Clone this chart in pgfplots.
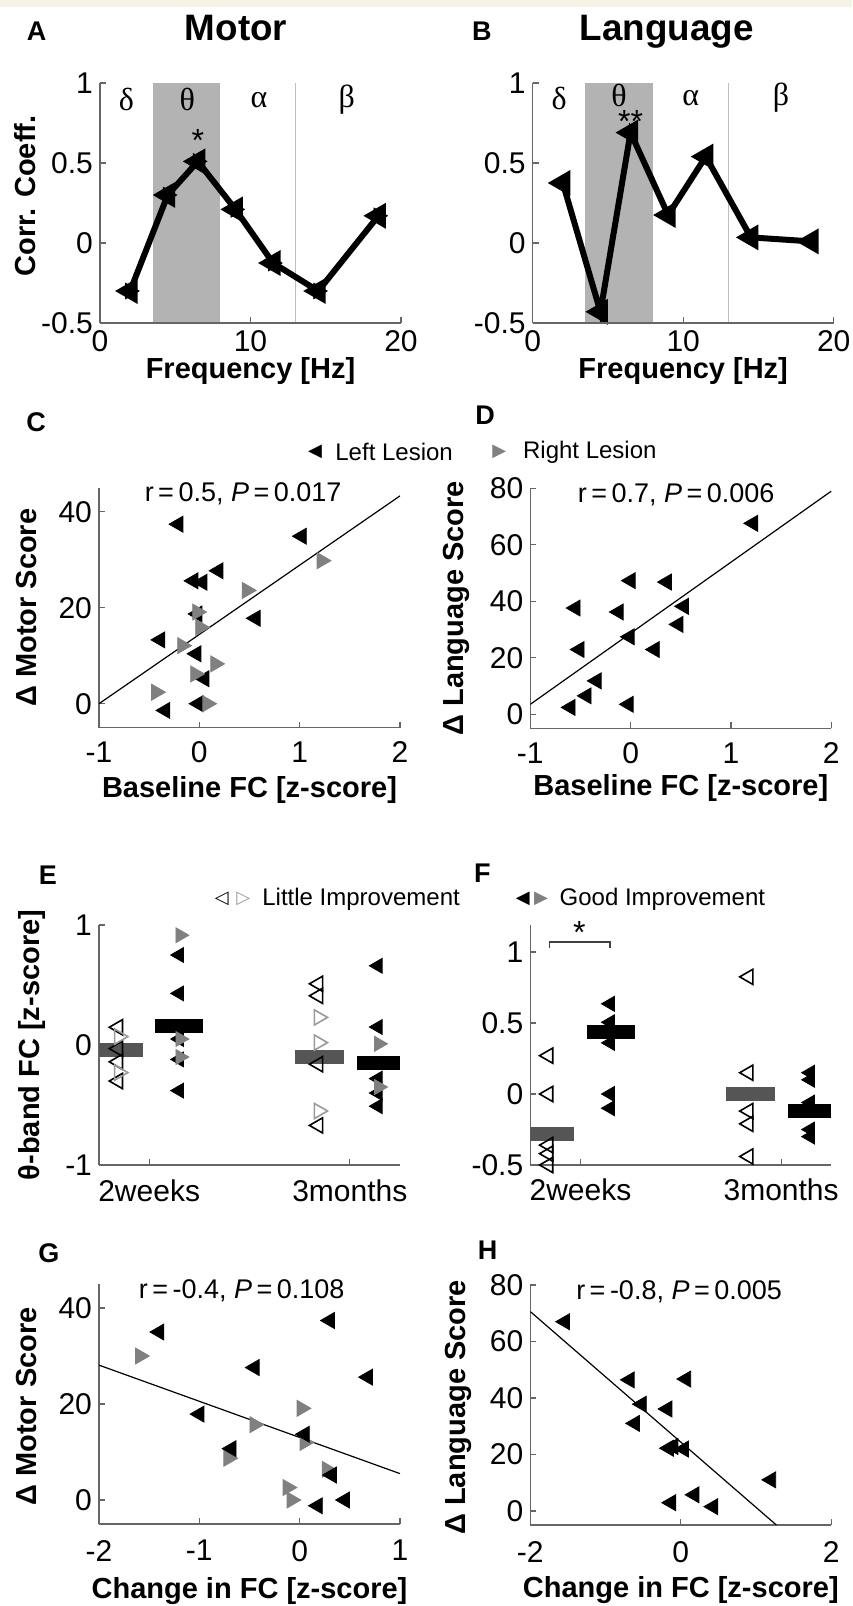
\documentclass[border=0pt]{standalone}
\usepackage{fontspec}
\setmainfont{Liberation Sans}
\newfontfamily\seriffont{Liberation Serif}
\newfontfamily\symfont{DejaVu Sans}
\usepackage{pgfplots}
\pgfplotsset{compat=1.18}

\definecolor{rgray}{HTML}{808080}
\definecolor{bargray}{HTML}{555555}
\definecolor{band}{HTML}{B3B3B3}
\definecolor{axgray}{HTML}{666666}
\definecolor{beige}{HTML}{F6F3E4}
\definecolor{ogray}{HTML}{9A9A9A}

\newcommand\tickfont{\fontsize{15}{17}\selectfont}
\newcommand\labfont{\bfseries\fontsize{14.5}{17}\selectfont}
\newcommand\statfont{\fontsize{13.5}{16}\selectfont}
\newcommand\legfont{\fontsize{12}{14}\selectfont}
\newcommand\letfont{\bfseries\fontsize{13.5}{15}\selectfont}
\newcommand\greek{\seriffont\fontsize{16}{18}\selectfont}

\pgfplotsset{
  panel/.style={
    scale only axis, width=150.5pt, height=120pt, anchor=south west,
    axis lines=left, axis line style={-, axgray, line width=0.7pt},
    tick style={axgray, line width=0.6pt}, tick align=inside,
    major tick length=3pt,
    ticklabel style={font=\tickfont},
    /pgf/number format/assume math mode=true,
    label style={font=\labfont},
    clip mode=individual,
  },
  lefttri/.style={only marks, mark=triangle*, mark size=4.6pt,
    mark options={rotate=90, fill=black, draw=black}},
  righttri/.style={only marks, mark=triangle*, mark size=4.6pt,
    mark options={rotate=-90, fill=rgray, draw=rgray}},
  leftopen/.style={only marks, mark=triangle, mark size=4.4pt,
    mark options={rotate=90, draw=black, line width=0.8pt}},
  rightopen/.style={only marks, mark=triangle, mark size=4.4pt,
    mark options={rotate=-90, draw=ogray, line width=0.8pt}},
  leftsm/.style={only marks, mark=triangle*, mark size=4.3pt,
    mark options={rotate=90, fill=black, draw=black}},
  rightsm/.style={only marks, mark=triangle*, mark size=4.3pt,
    mark options={rotate=-90, fill=rgray, draw=rgray}},
}

\begin{document}
\begin{tikzpicture}
\fill[white] (0pt,0pt) rectangle (426pt,-803pt);
\fill[beige] (0pt,0pt) rectangle (426pt,-3.5pt);
\useasboundingbox (0pt,0pt) rectangle (426pt,-803pt);

% titles and panel letters
\node[font=\bfseries\fontsize{18.4}{20}\selectfont, anchor=base] at (118pt,-20pt) {Motor};
\node[font=\bfseries\fontsize{18.4}{20}\selectfont, anchor=base] at (333.4pt,-20pt) {Language};
\node[font=\letfont] at (18.35pt,-15.85pt) {A};
\node[font=\letfont] at (240.9pt,-15.85pt) {B};
\node[font=\letfont] at (18pt,-210.85pt) {C};
\node[font=\letfont] at (242.5pt,-207.5pt) {D};
\node[font=\letfont] at (24pt,-437.5pt) {E};
\node[font=\letfont] at (241.15pt,-436.65pt) {F};
\node[font=\letfont] at (24.5pt,-626.5pt) {G};
\node[font=\letfont] at (243.85pt,-625pt) {H};

% legends
\node[font=\symfont\fontsize{9}{10}\selectfont] at (157.5pt,-226pt) {◀};
\node[font=\legfont, anchor=west, inner sep=0pt] at (167.5pt,-226pt) {Left Lesion};
\node[font=\symfont\fontsize{9}{10}\selectfont, text=rgray] at (249.65pt,-226pt) {▶};
\node[font=\legfont, anchor=west, inner sep=0pt] at (261.35pt,-226pt) {Right Lesion};
\node[font=\symfont\fontsize{9}{10}\selectfont] at (110.85pt,-449.5pt) {◁};
\node[font=\symfont\fontsize{9}{10}\selectfont, text=ogray] at (121.65pt,-449.5pt) {▷};
\node[font=\legfont, anchor=west, inner sep=0pt] at (131pt,-449.5pt) {Little Improvement};
\node[font=\symfont\fontsize{9}{10}\selectfont] at (261.35pt,-449.5pt) {◀};
\node[font=\symfont\fontsize{9}{10}\selectfont, text=rgray] at (270.5pt,-449.5pt) {▶};
\node[font=\legfont, anchor=west, inner sep=0pt] at (279.65pt,-449.5pt) {Good Improvement};

% ---------- A ----------
\begin{axis}[panel, at={(50pt,-161.5pt)}, axis on top,
  xmin=0, xmax=20, ymin=-0.5, ymax=1,
  xtick={0,10,20}, ytick={-0.5,0,0.5,1},
  xlabel={Frequency [Hz]}, ylabel={Corr. Coeff.},
  xlabel style={at={(axis description cs:0.5,-0.2)}, anchor=center},
  ylabel style={at={(axis description cs:-0.248,0.53)}, anchor=center}]
\addplot[fill=band, draw=none] coordinates {(3.5,-0.5) (8,-0.5) (8,1) (3.5,1)} --cycle;
\addplot[color=band!85, line width=0.6pt] coordinates {(13,-0.5) (13,1)};
\addplot[black, line width=3pt, mark=triangle*, mark size=4.5pt,
  mark options={rotate=90}] coordinates {
  (2,-0.3) (4.5,0.3) (6.5,0.51) (9,0.21) (11.5,-0.125) (14.5,-0.3) (18.5,0.17)};
\addplot[only marks, black, mark=triangle*, mark size=4.5pt,
  mark options={rotate=-90}] coordinates {
  (2,-0.3) (4.5,0.3) (6.5,0.51) (9,0.21) (11.5,-0.125) (14.5,-0.3) (18.5,0.17)};
\node[font=\greek] at (axis cs:1.76,0.894) {δ};
\node[font=\greek] at (axis cs:5.8,0.894) {θ};
\node[font=\greek] at (axis cs:10.56,0.894) {α};
\node[font=\greek] at (axis cs:16.39,0.894) {β};
\node[font=\fontsize{16}{18}\selectfont] at (axis cs:6.5,0.64) {*};
\end{axis}

% ---------- B ----------
\begin{axis}[panel, at={(266.35pt,-161.5pt)}, axis on top,
  xmin=0, xmax=20, ymin=-0.5, ymax=1,
  xtick={0,10,20}, ytick={-0.5,0,0.5,1},
  xlabel={Frequency [Hz]},
  xlabel style={at={(axis description cs:0.5,-0.2)}, anchor=center}]
\addplot[fill=band, draw=none] coordinates {(3.5,-0.5) (8,-0.5) (8,1) (3.5,1)} --cycle;
\addplot[color=band!85, line width=0.6pt] coordinates {(13,-0.5) (13,1)};
\addplot[black, line width=3pt, mark=triangle*, mark size=4.5pt,
  mark options={rotate=90}] coordinates {
  (2,0.375) (4.5,-0.43) (6.5,0.69) (9,0.175) (11.5,0.54) (14.5,0.035) (18.5,0.01)};
\node[font=\greek] at (axis cs:1.76,0.906) {δ};
\node[font=\greek] at (axis cs:5.74,0.925) {θ};
\node[font=\greek] at (axis cs:10.5,0.906) {α};
\node[font=\greek] at (axis cs:16.5,0.906) {β};
\node[font=\fontsize{16}{18}\selectfont] at (axis cs:6.5,0.76) {**};
\end{axis}

% ---------- C ----------
\begin{axis}[panel, at={(49.5pt,-363.85pt)},
  xmin=-1, xmax=2, ymin=-5, ymax=45,
  xtick={-1,0,1,2}, ytick={0,20,40},
  xticklabel style={yshift=-3.5pt},
  xlabel={Baseline FC [z-score]}, ylabel={Δ Motor Score},
  xlabel style={at={(axis description cs:0.5,-0.26)}, anchor=center},
  ylabel style={at={(axis description cs:-0.24,0.5)}, anchor=center}]
\addplot[black, line width=0.6pt] coordinates {(-1,0) (2,43.3)};
\addplot[lefttri] coordinates {
  (-0.21,37.4) (1.02,34.9) (-0.06,25.6) (0.03,25.3) (0.19,27.7) (0.56,17.8)
  (-0.02,18.7) (-0.39,13.3) (-0.03,10.4) (0.05,5.2) (-0.01,0) (-0.34,-1.4)};
\addplot[righttri] coordinates {
  (1.22,29.8) (0.475,23.6) (-0.02,19.1) (0.01,15.9) (-0.17,12.1) (0.16,8.3)
  (-0.04,6.2) (-0.43,2.4) (0.08,0)};
\node[font=\statfont] at (axis cs:0.436,43.7) {r\,=\,0.5, \textit{P}\,=\,0.017};
\end{axis}

% ---------- D ----------
\begin{axis}[panel, at={(265.15pt,-364.15pt)},
  xmin=-1, xmax=2, ymin=-5, ymax=80,
  xtick={-1,0,1,2}, ytick={0,20,40,60,80},
  xticklabel style={yshift=-3.5pt},
  xlabel={Baseline FC [z-score]}, ylabel={Δ Language Score},
  xlabel style={at={(axis description cs:0.5,-0.25)}, anchor=center},
  ylabel style={at={(axis description cs:-0.247,0.5)}, anchor=center}]
\addplot[black, line width=0.6pt] coordinates {(-1,3.5) (2,79)};
\addplot[lefttri] coordinates {
  (1.22,67.6) (0,47.3) (0.36,46.8) (-0.55,37.6) (-0.12,36.2) (0.53,38.2)
  (0.475,31.8) (-0.01,27.4) (-0.51,22.9) (0.24,22.9) (-0.34,11.8)
  (-0.44,6.5) (-0.6,2.4) (-0.02,3.5)};
\node[font=\statfont] at (axis cs:0.454,77.6) {r\,=\,0.7, \textit{P}\,=\,0.006};
\end{axis}

% ---------- E ----------
\begin{axis}[panel, at={(49.5pt,-582.5pt)},
  xmin=0, xmax=6, ymin=-1, ymax=1,
  xtick={1,5}, xticklabels={2weeks,3months}, ytick={-1,0,1},
  xticklabel style={yshift=-4pt},
  ylabel={θ-band FC [z-score]},
  ylabel style={at={(axis description cs:-0.224,0.5)}, anchor=center}]
\addplot[bargray, line width=7pt] coordinates {(0,-0.04) (0.88,-0.04)};
\addplot[black, line width=7pt] coordinates {(1.12,0.16) (2.08,0.16)};
\addplot[bargray, line width=7pt] coordinates {(3.91,-0.10) (4.88,-0.10)};
\addplot[black, line width=7pt] coordinates {(5.14,-0.15) (6.0,-0.15)};
\addplot[leftopen] coordinates {(0.38,0.148) (0.38,-0.03) (0.38,-0.14) (0.38,-0.3)};
\addplot[rightopen] coordinates {(0.40,0.07) (0.40,-0.23)};
\addplot[leftsm] coordinates {(1.6,0.75) (1.6,0.43) (1.6,0.05) (1.6,-0.12) (1.6,-0.38)};
\addplot[rightsm] coordinates {(1.62,0.915) (1.62,0.05) (1.62,-0.10)};
\addplot[leftopen] coordinates {(4.37,0.51) (4.37,0.41) (4.37,-0.16) (4.37,-0.67)};
\addplot[rightopen] coordinates {(4.38,0.23) (4.38,0.02) (4.38,-0.55)};
\addplot[leftsm] coordinates {(5.56,0.66) (5.56,0.15) (5.56,-0.28) (5.56,-0.40) (5.56,-0.51)};
\addplot[rightsm] coordinates {(5.58,0.01) (5.58,-0.35)};
\end{axis}

% ---------- F ----------
\begin{axis}[panel, at={(265.15pt,-582.5pt)},
  xmin=0, xmax=6, ymin=-0.5, ymax=1.19,
  xtick={1,5}, xticklabels={2weeks,3months}, ytick={-0.5,0,0.5,1},
  xticklabel style={yshift=-3.5pt}]
\addplot[bargray, line width=7pt] coordinates {(0,-0.28) (0.88,-0.28)};
\addplot[black, line width=7pt] coordinates {(1.13,0.44) (2.09,0.44)};
\addplot[bargray, line width=7pt] coordinates {(3.91,0.0) (4.88,0.0)};
\addplot[black, line width=7pt] coordinates {(5.13,-0.12) (6.0,-0.12)};
\addplot[leftopen] coordinates {(0.36,0.27) (0.36,0.0) (0.36,-0.36) (0.36,-0.42) (0.36,-0.5)};
\addplot[leftsm] coordinates {(1.59,0.635) (1.59,0.505) (1.59,0.43) (1.59,0.36) (1.59,0.0) (1.59,-0.1)};
\addplot[leftopen] coordinates {(4.35,0.825) (4.35,0.15) (4.35,-0.12) (4.35,-0.21) (4.35,-0.44)};
\addplot[leftsm] coordinates {(5.58,0.15) (5.58,0.10) (5.58,-0.06) (5.58,-0.25) (5.58,-0.3)};
\draw[black!75, line width=0.6pt] (axis cs:0.39,1.03) -- (axis cs:0.39,1.07)
  -- (axis cs:1.59,1.07) -- (axis cs:1.59,1.03);
\node[font=\fontsize{16}{18}\selectfont] at (axis cs:0.98,1.14) {*};
\end{axis}

% ---------- G ----------
\begin{axis}[panel, at={(49.5pt,-762pt)},
  xmin=-2, xmax=1, ymin=-5, ymax=45,
  xtick={-2,-1,0,1}, ytick={0,20,40},
  xticklabel style={yshift=-4.5pt},
  xlabel={Change in FC [z-score]}, ylabel={Δ Motor Score},
  xlabel style={at={(axis description cs:0.5,-0.278)}, anchor=center},
  ylabel style={at={(axis description cs:-0.24,0.49)}, anchor=center}]
\addplot[black, line width=0.6pt] coordinates {(-2,28.1) (1,5.5)};
\addplot[righttri] coordinates {
  (-1.59,30.0) (0.02,19.1) (-0.45,15.7) (0.05,12.0) (-0.71,8.7) (0.27,6.4)
  (-0.12,2.6) (-0.08,0)};
\addplot[lefttri] coordinates {
  (-1.40,35.0) (0.30,37.4) (-0.45,27.6) (0.68,25.6) (-1.0,17.9) (-0.68,10.7)
  (0.05,13.7) (0.32,5.2) (0.45,0) (0.18,-1.2)};
\node[font=\statfont] at (axis cs:-0.578,43.6) {r\,=\,-0.4, \textit{P}\,=\,0.108};
\end{axis}

% ---------- H ----------
\begin{axis}[panel, at={(265.15pt,-762.5pt)},
  xmin=-2, xmax=2, ymin=-5, ymax=80,
  xtick={-2,0,2}, ytick={0,20,40,60,80},
  xticklabel style={yshift=-4.5pt},
  xlabel={Change in FC [z-score]}, ylabel={Δ Language Score},
  xlabel style={at={(axis description cs:0.5,-0.271)}, anchor=center},
  ylabel style={at={(axis description cs:-0.24,0.49)}, anchor=center}]
\addplot[black, line width=0.6pt] coordinates {(-2,70.6) (1.27,-5)};
\addplot[lefttri] coordinates {
  (-1.54,67.0) (-0.68,46.4) (0.07,46.7) (-0.52,37.8) (-0.18,36.1) (-0.61,31.0)
  (-0.16,22.2) (-0.1,22.8) (0.04,21.9) (1.2,11.0) (0.18,5.7) (-0.13,2.9) (0.43,1.5)};
\node[font=\statfont] at (axis cs:-0.023,77.6) {r\,=\,-0.8, \textit{P}\,=\,0.005};
\end{axis}
\end{tikzpicture}
\end{document}
